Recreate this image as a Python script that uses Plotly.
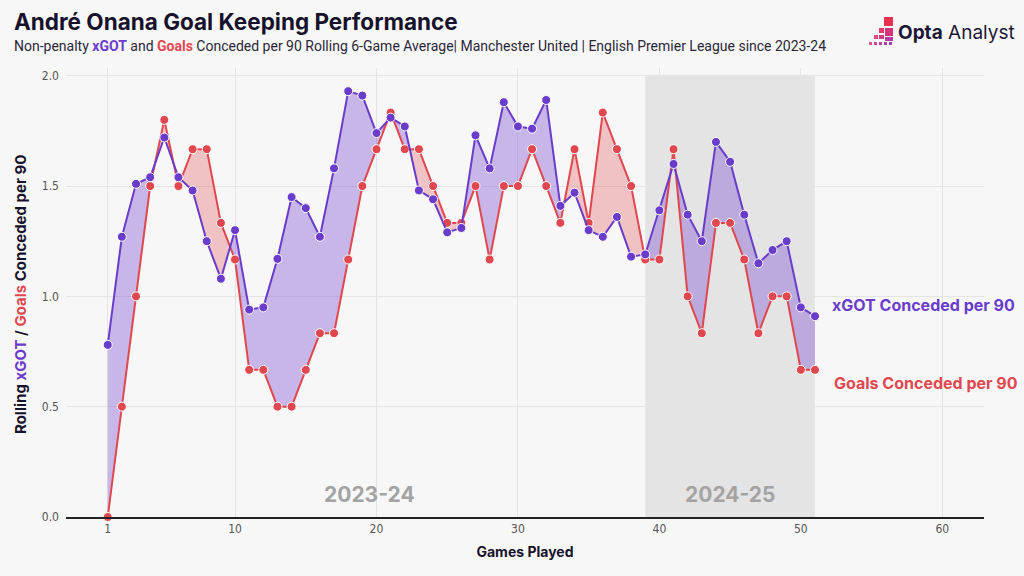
import plotly.graph_objects as go

games = list(range(1, 52))
xgot = [0.78, 1.27, 1.51, 1.54, 1.72, 1.54, 1.48, 1.25, 1.08, 1.30,
        0.94, 0.95, 1.17, 1.45, 1.40, 1.27, 1.58, 1.93, 1.91, 1.74,
        1.81, 1.77, 1.48, 1.44, 1.29, 1.31, 1.73, 1.58, 1.88, 1.77,
        1.76, 1.89, 1.41, 1.47, 1.30, 1.27, 1.36, 1.18, 1.19, 1.39,
        1.60, 1.37, 1.25, 1.70, 1.61, 1.37, 1.15, 1.21, 1.25, 0.95,
        0.91]
goals = [0.0, 0.5, 1.0, 1.5, 1.8, 1.5, 1.667, 1.667, 1.333, 1.167,
         0.667, 0.667, 0.5, 0.5, 0.667, 0.833, 0.833, 1.167, 1.5, 1.667,
         1.833, 1.667, 1.667, 1.5, 1.333, 1.333, 1.5, 1.167, 1.5, 1.5,
         1.667, 1.5, 1.333, 1.667, 1.333, 1.833, 1.667, 1.5, 1.167, 1.167,
         1.667, 1.0, 0.833, 1.333, 1.333, 1.167, 0.833, 1.0, 1.0, 0.667,
         0.667]
seasons = ["2023-24", "2024-25"]
season_start = [1, 39]
season_end = [38, 51]
x_ticks = [1, 10, 20, 30, 40, 50, 60]
y_ticks = [0.0, 0.5, 1.0, 1.5, 2.0]

PURPLE = "#6a3ccb"
RED = "#e0474f"
BG = "#f7f7f7"

# insert crossing points so the two fills meet exactly
xe, pe, re_ = [], [], []
for i in range(len(games)):
    xe.append(games[i]); pe.append(xgot[i]); re_.append(goals[i])
    if i < len(games) - 1:
        d0 = xgot[i] - goals[i]
        d1 = xgot[i + 1] - goals[i + 1]
        if d0 * d1 < 0:
            t = d0 / (d0 - d1)
            xc = games[i] + t * (games[i + 1] - games[i])
            yc = xgot[i] + t * (xgot[i + 1] - xgot[i])
            xe.append(xc); pe.append(yc); re_.append(yc)
mx = [max(a, b) for a, b in zip(pe, re_)]

fig = go.Figure()
fig.add_trace(go.Scatter(x=xe, y=re_, mode="lines", line=dict(width=0),
                         hoverinfo="skip", showlegend=False))
fig.add_trace(go.Scatter(x=xe, y=mx, mode="lines", line=dict(width=0),
                         fill="tonexty", fillcolor="rgba(120,75,205,0.38)",
                         hoverinfo="skip", showlegend=False))
fig.add_trace(go.Scatter(x=xe, y=pe, mode="lines", line=dict(width=0),
                         hoverinfo="skip", showlegend=False))
fig.add_trace(go.Scatter(x=xe, y=mx, mode="lines", line=dict(width=0),
                         fill="tonexty", fillcolor="rgba(228,95,100,0.35)",
                         hoverinfo="skip", showlegend=False))
fig.add_trace(go.Scatter(x=games, y=goals, mode="lines+markers",
                         line=dict(color=RED, width=2),
                         marker=dict(size=9, color=RED, line=dict(color="white", width=1)),
                         cliponaxis=False, showlegend=False))
fig.add_trace(go.Scatter(x=games, y=xgot, mode="lines+markers",
                         line=dict(color=PURPLE, width=2),
                         marker=dict(size=9, color=PURPLE, line=dict(color="white", width=1)),
                         cliponaxis=False, showlegend=False))

# 2024-25 shaded band
fig.add_shape(type="rect", xref="x", yref="y", x0=season_start[1], x1=season_end[1],
              y0=0, y1=2.0, fillcolor="rgba(0,0,0,0.075)", line=dict(width=0),
              layer="below")

for s, a, b in zip(seasons, season_start, season_end):
    fig.add_annotation(x=(a + b) / 2, y=0.1, xref="x", yref="y", text="<b>%s</b>" % s,
                       showarrow=False, font=dict(family="Inter", size=21, color="#a3a3a3"))

# end labels
fig.add_annotation(x=games[-1], y=xgot[-1], xref="x", yref="y", xanchor="left",
                   xshift=15, yshift=11, showarrow=False,
                   text="<b>xGOT Conceded per 90</b>",
                   font=dict(family="Inter", size=16, color=PURPLE))
fig.add_annotation(x=games[-1], y=goals[-1], xref="x", yref="y", xanchor="left",
                   xshift=17, yshift=-13, showarrow=False,
                   text="<b>Goals Conceded per 90</b>",
                   font=dict(family="Inter", size=16, color=RED))

L, R, T, B = 66, 984, 68, 517
W, H = R - L, B - T
def px(x):
    return (x - L) / W
def py(y):
    return (B - y) / H

# title + subtitle
fig.add_annotation(x=px(12), y=py(21), xref="paper", yref="paper", xanchor="left",
                   yanchor="middle", showarrow=False,
                   text="<b>André Onana Goal Keeping Performance</b>",
                   font=dict(family="Inter", size=22.5, color="#17122b"))
fig.add_annotation(x=px(12), y=py(46), xref="paper", yref="paper", xanchor="left",
                   yanchor="middle", showarrow=False,
                   text=("Non-penalty <b><span style='color:%s'>xGOT</span></b> and "
                         "<b><span style='color:%s'>Goals</span></b> Conceded per 90 Rolling "
                         "6-Game Average| Manchester United | English Premier League since 2023-24")
                        % (PURPLE, RED),
                   font=dict(family="Roboto", size=14, color="#2a2638"))

# y-axis title
fig.add_annotation(x=px(20), y=py(295), xref="paper", yref="paper", textangle=-90,
                   xanchor="center", yanchor="middle", showarrow=False,
                   text=("<b>Rolling <span style='color:%s'>xGOT</span> / "
                         "<span style='color:%s'>Goals</span> Conceded per 90</b>") % (PURPLE, RED),
                   font=dict(family="Inter", size=15, color="#17122b"))

# logo
fig.add_annotation(x=px(896), y=py(32), xref="paper", yref="paper", xanchor="left",
                   yanchor="middle", showarrow=False,
                   text="<b>Opta</b> Analyst",
                   font=dict(family="Inter", size=19, color="#1d1736"))
squares = [
    (884, 17, 893, 26, "#e8304f"),
    (879, 28, 884, 33, "#e43a68"),
    (885, 28, 893, 36, "#d6337c"),
    (874, 35, 878, 39, "#e04a7a"),
    (879, 35, 884, 39, "#d23a88"),
    (885, 37, 893, 41, "#b83aa8"),
    (869, 42, 872, 45, "#e3557e"),
    (874, 42, 877, 45, "#cf4794"),
    (879, 42, 882, 45, "#c23fa2"),
    (884, 42, 887, 45, "#ad3db4"),
    (889, 42, 892, 45, "#9c3cbd"),
]
for x0, y0, x1, y1, c in squares:
    fig.add_shape(type="rect", xref="paper", yref="paper", x0=px(x0), x1=px(x1),
                  y0=py(y1), y1=py(y0), fillcolor=c, line=dict(width=0))

fig.update_layout(
    width=1024, height=576, autosize=False,
    margin=dict(l=L, r=1024 - R, t=T, b=576 - B),
    paper_bgcolor=BG, plot_bgcolor=BG,
    font=dict(family="Roboto", color="#555555"),
    xaxis=dict(range=[-1.95, 62.95], tickvals=x_ticks, showgrid=True,
               gridcolor="#e4e4e4", gridwidth=1, zeroline=False,
               showline=True, linecolor="#222222", linewidth=2,
               tickfont=dict(family="DejaVu Sans Condensed", size=12, color="#555555"),
               title=dict(text="<b>Games Played</b>", standoff=12,
                          font=dict(family="Inter", size=14, color="#17122b"))),
    yaxis=dict(range=[0, 2.035], tickvals=y_ticks, ticktext=["%.1f" % v for v in y_ticks],
               showgrid=True, gridcolor="#e4e4e4", gridwidth=1, zeroline=False,
               showline=False, ticks="", ticklabelstandoff=6,
               tickfont=dict(family="DejaVu Sans Condensed", size=12, color="#555555")),
)

fig.write_html("out.html")
